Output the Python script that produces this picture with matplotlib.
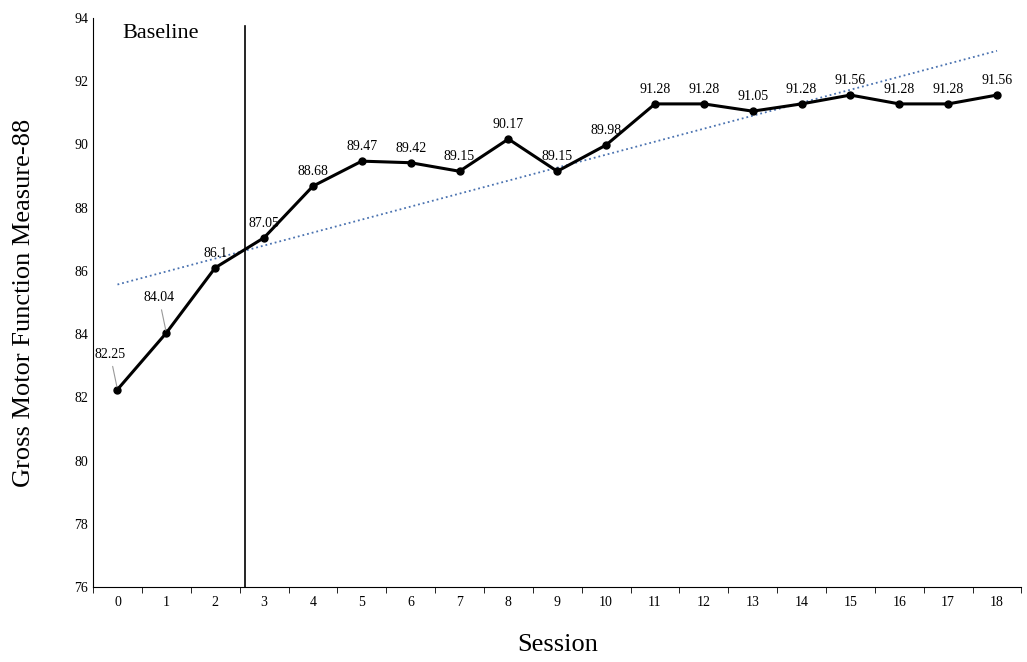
import numpy as np
import matplotlib.pyplot as plt

plt.rcParams['font.family'] = ['Liberation Serif', 'DejaVu Serif']

sessions = list(range(19))
scores = [82.25, 84.04, 86.1, 87.05, 88.68, 89.47, 89.42, 89.15, 90.17, 89.15,
          89.98, 91.28, 91.28, 91.05, 91.28, 91.56, 91.28, 91.28, 91.56]
labels = ["82.25", "84.04", "86.1", "87.05", "88.68", "89.47", "89.42", "89.15", "90.17",
          "89.15", "89.98", "91.28", "91.28", "91.05", "91.28", "91.56", "91.28", "91.28", "91.56"]
phase_change = 2.6


def main() -> None:
    fig = plt.figure(figsize=(10.27, 6.62), dpi=100)
    ax = fig.add_axes([0.0906, 0.113, 0.904, 0.86])

    x = np.array(sessions)
    y = np.array(scores)
    k, b = np.polyfit(x, y, 1)
    ax.plot(x, k * x + b, ls=":", color="#4a72b0", lw=1.3, zorder=2)
    ax.plot(x, y, color="black", lw=2.2, marker="o", ms=5, zorder=3)
    ax.axvline(phase_change, color="black", lw=1.2, ymax=0.985)

    for i, (xi, yi, lab) in enumerate(zip(x, y, labels)):
        if i < 2:
            ax.annotate(lab, (xi, yi), xytext=(xi - 0.15, yi + 1.0), ha="center",
                        fontsize=10, arrowprops=dict(arrowstyle="-", color="#999999", lw=0.8))
        else:
            ax.annotate(lab, (xi, yi), textcoords="offset points", xytext=(0, 8),
                        ha="center", fontsize=10)

    ax.text(0.1, 93.5, "Baseline", fontsize=16, ha="left", va="center")

    ax.set_xlim(-0.5, 18.5)
    ax.set_ylim(76, 94)
    ax.set_xticks(sessions)
    ax.set_yticks(range(76, 95, 2))
    ax.tick_params(axis="both", labelsize=10, length=0)
    ax.tick_params(axis="x", pad=6)
    ax.set_xticks(np.arange(-0.5, 18.6, 1), minor=True)
    ax.tick_params(axis="x", which="minor", length=4, direction="out")
    for s in ["top", "right"]:
        ax.spines[s].set_visible(False)
    ax.set_xlabel("Session", fontsize=19, labelpad=18)
    ax.set_ylabel("Gross Motor Function Measure-88", fontsize=19, labelpad=28)

    plt.savefig("out.png", dpi=100)
    plt.close()


if __name__ == "__main__":
    main()
